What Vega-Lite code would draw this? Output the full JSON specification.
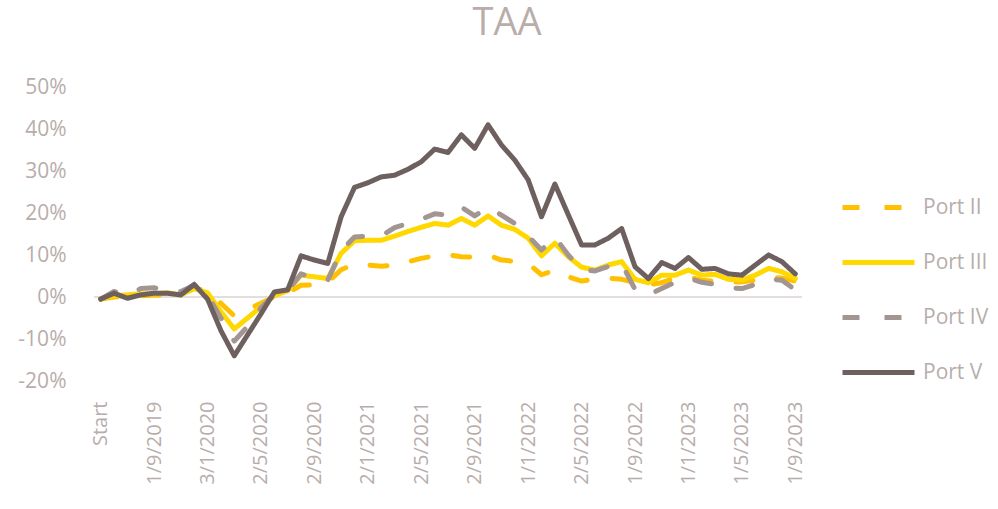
{
  "$schema": "https://vega.github.io/schema/vega-lite/v6.json",
  "autosize": {"type": "none"},
  "padding": {"left": 94, "top": 87, "right": 196, "bottom": 128},
  "width": 708,
  "height": 294,
  "background": "white",
  "config": {
    "font": "Open Sans",
    "view": {"stroke": null},
    "axis": {"labelColor": "#B8ADAB", "labelFontSize": 21, "grid": false, "domain": false, "ticks": false}
  },
  "title": {"text": "TAA", "fontSize": 38, "fontWeight": "normal", "color": "#B8ADAB", "anchor": "middle", "dx": 59, "offset": 3, "baseline": "alphabetic"},
  "data": {
    "values": [
      {"d": "Start", "Port II": -0.5, "Port III": -0.5, "Port IV": -0.5, "Port V": -0.5},
      {"d": "1/6/2019", "Port II": 0.0, "Port III": 0.3, "Port IV": 1.3, "Port V": 0.9},
      {"d": "1/7/2019", "Port II": 0.3, "Port III": 0.5, "Port IV": 0.5, "Port V": -0.3},
      {"d": "1/8/2019", "Port II": 0.3, "Port III": 0.8, "Port IV": 2.0, "Port V": 0.5},
      {"d": "1/9/2019", "Port II": 0.5, "Port III": 0.8, "Port IV": 2.2, "Port V": 0.9},
      {"d": "1/10/2019", "Port II": 0.5, "Port III": 1.0, "Port IV": 1.5, "Port V": 0.9},
      {"d": "1/11/2019", "Port II": 0.8, "Port III": 0.5, "Port IV": 1.3, "Port V": 0.5},
      {"d": "2/12/2019", "Port II": 2.0, "Port III": 2.0, "Port IV": 2.8, "Port V": 3.0},
      {"d": "3/1/2020", "Port II": 1.5, "Port III": 1.0, "Port IV": 0.5, "Port V": -0.5},
      {"d": "3/2/2020", "Port II": -1.5, "Port III": -3.5, "Port IV": -5.0, "Port V": -8.0},
      {"d": "2/3/2020", "Port II": -4.5, "Port III": -7.6, "Port IV": -10.5, "Port V": -14.0},
      {"d": "1/4/2020", "Port II": -3.0, "Port III": -5.0, "Port IV": -7.0, "Port V": -9.0},
      {"d": "2/5/2020", "Port II": -1.5, "Port III": -2.3, "Port IV": -2.5, "Port V": -4.0},
      {"d": "1/6/2020", "Port II": 0.0, "Port III": 0.3, "Port IV": 0.5, "Port V": 1.2},
      {"d": "1/7/2020", "Port II": 1.0, "Port III": 1.5, "Port IV": 1.5, "Port V": 1.7},
      {"d": "3/8/2020", "Port II": 2.8, "Port III": 5.2, "Port IV": 5.5, "Port V": 9.8},
      {"d": "2/9/2020", "Port II": 2.9, "Port III": 4.8, "Port IV": 4.5, "Port V": 8.8},
      {"d": "1/10/2020", "Port II": 3.5, "Port III": 4.4, "Port IV": 4.0, "Port V": 8.0},
      {"d": "2/11/2020", "Port II": 6.5, "Port III": 10.4, "Port IV": 11.0, "Port V": 19.1},
      {"d": "1/12/2020", "Port II": 7.8, "Port III": 13.4, "Port IV": 14.3, "Port V": 26.1},
      {"d": "2/1/2021", "Port II": 7.6, "Port III": 13.5, "Port IV": 14.5, "Port V": 27.2},
      {"d": "1/2/2021", "Port II": 7.3, "Port III": 13.5, "Port IV": 14.5, "Port V": 28.6},
      {"d": "1/3/2021", "Port II": 7.6, "Port III": 14.5, "Port IV": 16.5, "Port V": 29.0},
      {"d": "1/4/2021", "Port II": 8.4, "Port III": 15.6, "Port IV": 17.5, "Port V": 30.4},
      {"d": "2/5/2021", "Port II": 9.2, "Port III": 16.6, "Port IV": 18.5, "Port V": 32.2},
      {"d": "1/6/2021", "Port II": 9.8, "Port III": 17.5, "Port IV": 19.8, "Port V": 35.2},
      {"d": "1/7/2021", "Port II": 10.0, "Port III": 17.1, "Port IV": 19.5, "Port V": 34.4},
      {"d": "2/8/2021", "Port II": 9.6, "Port III": 18.7, "Port IV": 21.4, "Port V": 38.6},
      {"d": "2/9/2021", "Port II": 9.5, "Port III": 17.1, "Port IV": 19.3, "Port V": 35.4},
      {"d": "1/10/2021", "Port II": 10.0, "Port III": 19.3, "Port IV": 21.4, "Port V": 41.0},
      {"d": "1/11/2021", "Port II": 8.8, "Port III": 17.1, "Port IV": 19.5, "Port V": 36.2},
      {"d": "1/12/2021", "Port II": 8.5, "Port III": 16.1, "Port IV": 17.5, "Port V": 32.6},
      {"d": "1/1/2022", "Port II": 8.0, "Port III": 14.0, "Port IV": 14.5, "Port V": 27.9},
      {"d": "1/2/2022", "Port II": 5.3, "Port III": 9.8, "Port IV": 11.2, "Port V": 19.1},
      {"d": "1/3/2022", "Port II": 6.4, "Port III": 12.8, "Port IV": 14.3, "Port V": 26.9},
      {"d": "1/4/2022", "Port II": 4.8, "Port III": 9.6, "Port IV": 10.0, "Port V": 19.6},
      {"d": "2/5/2022", "Port II": 3.8, "Port III": 7.1, "Port IV": 6.5, "Port V": 12.4},
      {"d": "1/6/2022", "Port II": 4.2, "Port III": 6.4, "Port IV": 6.2, "Port V": 12.4},
      {"d": "1/7/2022", "Port II": 4.5, "Port III": 7.6, "Port IV": 7.3, "Port V": 14.0},
      {"d": "1/8/2022", "Port II": 4.2, "Port III": 8.4, "Port IV": 8.0, "Port V": 16.3},
      {"d": "1/9/2022", "Port II": 3.5, "Port III": 4.2, "Port IV": 1.8, "Port V": 7.2},
      {"d": "3/10/2022", "Port II": 2.9, "Port III": 3.4, "Port IV": 0.5, "Port V": 4.4},
      {"d": "1/11/2022", "Port II": 3.4, "Port III": 5.2, "Port IV": 2.0, "Port V": 8.2},
      {"d": "1/12/2022", "Port II": 4.5, "Port III": 5.2, "Port IV": 3.5, "Port V": 6.8},
      {"d": "1/1/2023", "Port II": 4.8, "Port III": 6.4, "Port IV": 4.5, "Port V": 9.4},
      {"d": "1/2/2023", "Port II": 4.0, "Port III": 5.2, "Port IV": 3.5, "Port V": 6.6},
      {"d": "1/3/2023", "Port II": 3.7, "Port III": 5.4, "Port IV": 3.0, "Port V": 6.8},
      {"d": "3/4/2023", "Port II": 3.6, "Port III": 4.2, "Port IV": 2.2, "Port V": 5.5},
      {"d": "1/5/2023", "Port II": 3.6, "Port III": 4.1, "Port IV": 2.0, "Port V": 5.2},
      {"d": "1/6/2023", "Port II": 4.0, "Port III": 5.2, "Port IV": 3.0, "Port V": 7.6},
      {"d": "3/7/2023", "Port II": 4.8, "Port III": 6.8, "Port IV": 4.3, "Port V": 10.0},
      {"d": "1/8/2023", "Port II": 4.5, "Port III": 6.0, "Port IV": 4.0, "Port V": 8.4},
      {"d": "1/9/2023", "Port II": 3.8, "Port III": 4.4, "Port IV": 1.7, "Port V": 5.5}
    ]
  },
  "transform": [
    {"fold": ["Port II", "Port III", "Port IV", "Port V"], "as": ["series", "value"]}
  ],
  "encoding": {
    "x": {
      "field": "d", "type": "ordinal", "sort": null, "title": null,
      "scale": {"type": "point", "padding": 0.5},
      "axis": {
        "values": ["Start", "1/9/2019", "3/1/2020", "2/5/2020", "2/9/2020", "2/1/2021", "2/5/2021", "2/9/2021", "1/1/2022", "2/5/2022", "1/9/2022", "1/1/2023", "1/5/2023", "1/9/2023"],
        "labelAngle": -90, "labelPadding": 20, "labelFontSize": 20
      }
    }
  },
  "layer": [
    {
      "mark": {"type": "rule", "color": "#E3DEDD", "strokeWidth": 2},
      "encoding": {"x": null, "y": {"datum": 0, "type": "quantitative"}}
    },
    {
      "mark": {"type": "line", "strokeWidth": 5, "strokeCap": "round", "strokeJoin": "round"},
      "encoding": {
        "y": {
          "field": "value", "type": "quantitative", "title": null,
          "scale": {"domain": [-20, 50], "nice": false, "zero": false},
          "axis": {"values": [-20, -10, 0, 10, 20, 30, 40, 50], "labelExpr": "datum.value + '%'", "labelPadding": 28}
        },
        "color": {
          "field": "series", "type": "nominal", "title": null,
          "scale": {"domain": ["Port II", "Port III", "Port IV", "Port V"], "range": ["#FFC000", "#FFD800", "#A39592", "#6E605E"]},
          "legend": {
            "orient": "none", "legendX": 746, "legendY": 82,
            "symbolType": "stroke", "symbolSize": 5184, "symbolStrokeWidth": 5,
            "labelFontSize": 21, "labelColor": "#B8ADAB", "labelOffset": 6,
            "rowPadding": 6
          }
        },
        "strokeDash": {
          "field": "series", "type": "nominal", "title": null,
          "scale": {"domain": ["Port II", "Port III", "Port IV", "Port V"], "range": [[17, 25], [1, 0], [17, 25], [1, 0]]},
          "legend": {
            "orient": "none", "legendX": 746, "legendY": 82,
            "symbolType": "stroke", "symbolSize": 5184, "symbolStrokeWidth": 5,
            "labelFontSize": 21, "labelColor": "#B8ADAB", "labelOffset": 6,
            "rowPadding": 6
          }
        }
      }
    }
  ]
}
